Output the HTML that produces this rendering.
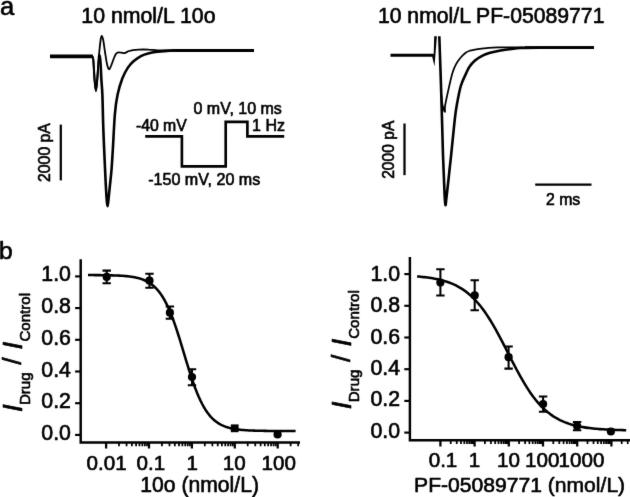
<!DOCTYPE html>
<html><head><meta charset="utf-8"><title>Figure</title>
<style>
html,body{margin:0;padding:0;background:#fff;}
svg{display:block;}
text{font-family:"Liberation Sans",sans-serif;fill:#000;stroke:#000;stroke-width:.62px;stroke-linejoin:round;}
.ln{fill:none;stroke:#000;}
</style></head><body>
<svg width="630" height="497" viewBox="0 0 630 497">
<defs><filter id="soft" color-interpolation-filters="sRGB" x="0" y="0" width="630" height="497" filterUnits="userSpaceOnUse"><feConvolveMatrix order="3" kernelMatrix="1 6 1 6 72 6 1 6 1" divisor="100" edgeMode="duplicate" preserveAlpha="true"/></filter></defs>
<g filter="url(#soft)">
<rect x="-5" y="-5" width="640" height="507" fill="#fff"/>

<text x="-0.1" y="14.5" font-size="25.6">a</text>
<text x="-1.0" y="258.9" font-size="24.6">b</text>
<text x="81.3" y="23.2" font-size="21.3">10 nmol/L 10o</text>
<text x="377.9" y="23.2" font-size="21.2">10 nmol/L PF-05089771</text>
<path class="ln" d="M88.00,56.30 C88.60,56.30 90.87,56.25 91.60,56.30 C92.33,56.35 92.12,55.98 92.40,56.60 C92.68,57.22 92.93,56.10 93.30,60.00 C93.67,63.90 94.17,74.85 94.60,80.00 C95.03,85.15 95.47,90.90 95.90,90.90 C96.33,90.90 96.78,84.48 97.20,80.00 C97.62,75.52 98.07,68.08 98.40,64.00 C98.73,59.92 99.00,56.83 99.20,55.50 C99.40,54.17 99.53,55.92 99.60,56.00" stroke="#2e2e2e" stroke-width="2.1" stroke-linejoin="round"/>
<path class="ln" d="M98.90,57.50 C98.97,57.22 99.13,55.88 99.30,55.80 C99.47,55.72 99.68,55.63 99.90,57.00 C100.12,58.37 100.35,60.17 100.60,64.00 C100.85,67.83 101.10,74.83 101.40,80.00 C101.70,85.17 102.10,87.50 102.40,95.00 C102.70,102.50 102.90,115.77 103.20,125.00 C103.50,134.23 103.77,140.40 104.20,150.40 C104.63,160.40 105.37,176.57 105.80,185.00 C106.23,193.43 106.52,197.47 106.80,201.00 C107.08,204.53 107.25,206.20 107.50,206.20 C107.75,206.20 107.92,204.27 108.30,201.00 C108.68,197.73 109.27,191.77 109.80,186.60 C110.33,181.43 111.00,176.10 111.50,170.00 C112.00,163.90 112.23,159.33 112.80,150.00 C113.37,140.67 114.12,123.17 114.90,114.00 C115.68,104.83 116.27,100.92 117.50,95.00 C118.73,89.08 120.57,83.07 122.30,78.50 C124.03,73.93 125.98,70.52 127.90,67.60 C129.82,64.68 131.55,62.97 133.80,61.00 C136.05,59.03 139.02,57.07 141.40,55.80 C143.78,54.53 145.40,54.07 148.10,53.40 C150.80,52.73 153.95,52.27 157.60,51.80 C161.25,51.33 166.27,50.82 170.00,50.60 C173.73,50.38 173.33,50.52 180.00,50.50 C186.67,50.48 197.68,50.50 210.00,50.50 C222.32,50.50 246.58,50.50 253.90,50.50" stroke-width="2.6" stroke-linejoin="round"/>
<path class="ln" d="M50.00,56.30 C56.33,56.30 81.07,56.30 88.00,56.30 C94.93,56.30 90.87,56.25 91.60,56.30 C92.33,56.35 92.12,55.98 92.40,56.60 C92.68,57.22 92.93,56.10 93.30,60.00 C93.67,63.90 94.17,74.85 94.60,80.00 C95.03,85.15 95.47,90.90 95.90,90.90 C96.33,90.90 96.68,85.98 97.20,80.00 C97.72,74.02 98.43,61.67 99.00,55.00 C99.57,48.33 100.15,43.18 100.60,40.00 C101.05,36.82 101.27,35.90 101.70,35.90 C102.13,35.90 102.65,37.32 103.20,40.00 C103.75,42.68 104.37,48.00 105.00,52.00 C105.63,56.00 106.35,61.12 107.00,64.00 C107.65,66.88 108.23,68.97 108.90,69.30 C109.57,69.63 110.22,67.72 111.00,66.00 C111.78,64.28 112.82,60.95 113.60,59.00 C114.38,57.05 115.13,55.32 115.70,54.30 C116.27,53.28 116.52,53.22 117.00,52.90 C117.48,52.58 117.87,52.43 118.60,52.40 C119.33,52.37 120.45,52.57 121.40,52.70 C122.35,52.83 123.47,53.27 124.30,53.20 C125.13,53.13 125.62,52.67 126.40,52.30 C127.18,51.93 127.90,51.37 129.00,51.00 C130.10,50.63 131.40,50.33 133.00,50.10 C134.60,49.87 136.08,49.68 138.60,49.60 C141.12,49.52 144.93,49.47 148.10,49.60 C151.27,49.73 153.95,50.25 157.60,50.40 C161.25,50.55 162.93,50.48 170.00,50.50 C177.07,50.52 186.02,50.50 200.00,50.50 C213.98,50.50 244.92,50.50 253.90,50.50" stroke="#464646" stroke-width="1.8" stroke-linejoin="round"/>
<path class="ln" d="M50,56.3 H92.8" stroke-width="3.7"/>
<path class="ln" d="M172,50.5 H253.9" stroke-width="3.0"/>
<path class="ln" d="M60.8,124.6 V180.4" stroke-width="2.25"/>
<text transform="translate(49.7,181.9) rotate(-90)" font-size="15.75">2000 pA</text>
<path class="ln" d="M145.2,136.3 H181.9 V166.4 H225.7 V121.9 H247.4 V136.3 H284.2" stroke-width="2.65" stroke-linejoin="miter"/>
<text x="135.9" y="131.4" font-size="15.8">-40 mV</text>
<text x="193.5" y="113.9" font-size="16">0 mV, 10 ms</text>
<text x="252.1" y="131.3" font-size="16">1 Hz</text>
<text x="148.2" y="184.5" font-size="16.1">-150 mV, 20 ms</text>
<path class="ln" d="M441.30,95.00 C441.50,96.67 441.90,102.18 442.50,105.00 C443.10,107.82 444.45,111.90 444.90,111.90 C445.35,111.90 444.48,109.28 445.20,105.00 C445.92,100.72 447.97,91.62 449.20,86.20 C450.43,80.78 451.45,76.17 452.60,72.50 C453.75,68.83 454.78,66.65 456.10,64.20 C457.42,61.75 458.90,59.72 460.50,57.80 C462.10,55.88 464.12,53.88 465.70,52.70 C467.28,51.52 468.25,51.25 470.00,50.70 C471.75,50.15 473.43,49.83 476.20,49.40 C478.97,48.97 482.97,48.43 486.60,48.10 C490.23,47.77 491.43,47.53 498.00,47.40 C504.57,47.27 515.67,47.28 526.00,47.30 C536.33,47.32 548.68,47.47 560.00,47.50 C571.32,47.53 588.25,47.50 593.90,47.50" stroke="#484848" stroke-width="1.75" stroke-linejoin="round"/>
<path class="ln" d="M525,47.6 H593.9" stroke-width="2.7"/>
<path class="ln" d="M390.5,55.3 H433.8" stroke-width="3.0"/>
<path d="M432.2,56.7 L434.5,66.6 L436.9,36.3 L434.2,36.3 L433.7,54 Z" fill="#000"/>
<path class="ln" d="M439.30,36.30 C439.63,46.08 440.68,75.15 441.30,95.00 C441.92,114.85 442.45,138.73 443.00,155.40 C443.55,172.07 444.18,186.70 444.60,195.00 C445.02,203.30 445.20,204.70 445.50,205.20 C445.80,205.70 445.90,202.28 446.40,198.00 C446.90,193.72 447.98,184.17 448.50,179.50 C449.02,174.83 449.07,174.02 449.50,170.00 C449.93,165.98 450.22,163.87 451.10,155.40 C451.98,146.93 453.85,127.60 454.80,119.20 C455.75,110.80 455.80,110.53 456.80,105.00 C457.80,99.47 459.27,91.23 460.80,86.00 C462.33,80.77 464.58,76.77 466.00,73.60 C467.42,70.43 467.80,69.17 469.30,67.00 C470.80,64.83 472.87,62.45 475.00,60.60 C477.13,58.75 479.58,57.20 482.10,55.90 C484.62,54.60 487.45,53.63 490.10,52.80 C492.75,51.97 495.52,51.40 498.00,50.90 C500.48,50.40 502.50,50.15 505.00,49.80 C507.50,49.45 510.50,49.10 513.00,48.80 C515.50,48.50 515.50,48.18 520.00,48.00 C524.50,47.82 527.68,47.77 540.00,47.70 C552.32,47.63 584.92,47.62 593.90,47.60" stroke-width="2.6" stroke-linejoin="round"/>
<path class="ln" d="M404.5,123.5 V175.2" stroke-width="2.25"/>
<text transform="translate(393.9,178.8) rotate(-90)" font-size="15.6">2000 pA</text>
<path class="ln" d="M535.2,184.5 H591.5" stroke-width="2.25"/>
<text x="546" y="204.9" font-size="15.8">2 ms</text>
<path class="ln" d="M80.7,259.2 V442.4 H300" stroke-width="2.45" stroke-linejoin="miter"/>
<path class="ln" d="M75.10000000000001,434.90 H80.7" stroke-width="2.15"/>
<text x="70.9" y="440.20" font-size="21.3" text-anchor="end">0.0</text>
<path class="ln" d="M75.10000000000001,403.20 H80.7" stroke-width="2.15"/>
<text x="70.9" y="408.38" font-size="21.3" text-anchor="end">0.2</text>
<path class="ln" d="M75.10000000000001,371.50 H80.7" stroke-width="2.15"/>
<text x="70.9" y="376.56" font-size="21.3" text-anchor="end">0.4</text>
<path class="ln" d="M75.10000000000001,339.80 H80.7" stroke-width="2.15"/>
<text x="70.9" y="344.74" font-size="21.3" text-anchor="end">0.6</text>
<path class="ln" d="M75.10000000000001,308.10 H80.7" stroke-width="2.15"/>
<text x="70.9" y="312.92" font-size="21.3" text-anchor="end">0.8</text>
<path class="ln" d="M75.10000000000001,276.40 H80.7" stroke-width="2.15"/>
<text x="70.9" y="281.10" font-size="21.3" text-anchor="end">1.0</text>
<path class="ln" d="M106.10,442.4 v6.2 M149.00,442.4 v6.2 M191.90,442.4 v6.2 M234.80,442.4 v6.2 M277.70,442.4 v6.2" stroke-width="2.25"/>
<path class="ln" d="M119.01,442.4 v3.9 M126.57,442.4 v3.9 M131.93,442.4 v3.9 M136.09,442.4 v3.9 M139.48,442.4 v3.9 M142.35,442.4 v3.9 M144.84,442.4 v3.9 M147.04,442.4 v3.9 M161.91,442.4 v3.9 M169.47,442.4 v3.9 M174.83,442.4 v3.9 M178.99,442.4 v3.9 M182.38,442.4 v3.9 M185.25,442.4 v3.9 M187.74,442.4 v3.9 M189.94,442.4 v3.9 M204.81,442.4 v3.9 M212.37,442.4 v3.9 M217.73,442.4 v3.9 M221.89,442.4 v3.9 M225.28,442.4 v3.9 M228.15,442.4 v3.9 M230.64,442.4 v3.9 M232.84,442.4 v3.9 M247.71,442.4 v3.9 M255.27,442.4 v3.9 M260.63,442.4 v3.9 M264.79,442.4 v3.9 M268.18,442.4 v3.9 M271.05,442.4 v3.9 M273.54,442.4 v3.9 M275.74,442.4 v3.9 M290.61,442.4 v3.9 M298.17,442.4 v3.9" stroke-width="1.75"/>
<text x="86.5" y="469.6" font-size="20.6">0.01</text>
<text x="136.6" y="469.6" font-size="20.6">0.1</text>
<text x="186.55" y="469.6" font-size="20.6">1</text>
<text x="222.85" y="469.6" font-size="20.6">10</text>
<text x="261.5" y="469.6" font-size="20.6">100</text>
<text x="140.3" y="491.6" font-size="21.15">10o (nmol/L)</text>
<path class="ln" d="M88.00,275.06 L89.73,275.07 L91.46,275.08 L93.19,275.09 L94.92,275.10 L96.65,275.11 L98.38,275.13 L100.11,275.14 L101.84,275.16 L103.57,275.18 L105.30,275.21 L107.03,275.24 L108.76,275.28 L110.49,275.32 L112.22,275.36 L113.95,275.42 L115.68,275.48 L117.41,275.55 L119.14,275.64 L120.87,275.74 L122.60,275.85 L124.33,275.98 L126.06,276.13 L127.79,276.31 L129.52,276.51 L131.25,276.75 L132.98,277.02 L134.71,277.33 L136.44,277.69 L138.17,278.11 L139.90,278.59 L141.63,279.14 L143.36,279.78 L145.09,280.51 L146.82,281.34 L148.55,282.30 L150.28,283.40 L152.01,284.65 L153.74,286.08 L155.47,287.70 L157.20,289.53 L158.93,291.59 L160.66,293.91 L162.39,296.50 L164.12,299.39 L165.85,302.58 L167.58,306.09 L169.31,309.93 L171.04,314.10 L172.77,318.58 L174.50,323.37 L176.23,328.43 L177.96,333.73 L179.69,339.23 L181.42,344.88 L183.15,350.61 L184.88,356.37 L186.61,362.09 L188.34,367.71 L190.07,373.19 L191.80,378.45 L193.53,383.47 L195.26,388.21 L196.99,392.64 L198.72,396.75 L200.45,400.54 L202.18,404.00 L203.91,407.14 L205.64,409.98 L207.37,412.53 L209.10,414.80 L210.83,416.83 L212.56,418.62 L214.29,420.20 L216.02,421.60 L217.75,422.83 L219.48,423.90 L221.21,424.84 L222.94,425.66 L224.67,426.37 L226.40,426.99 L228.13,427.53 L229.86,428.00 L231.59,428.41 L233.32,428.76 L235.05,429.07 L236.78,429.33 L238.51,429.56 L240.24,429.76 L241.97,429.93 L243.70,430.08 L245.43,430.21 L247.16,430.32 L248.89,430.41 L250.62,430.50 L252.35,430.57 L254.08,430.63 L255.81,430.68 L257.54,430.73 L259.27,430.77 L261.00,430.80 L262.73,430.83 L264.46,430.86 L266.19,430.88 L267.92,430.90 L269.65,430.91 L271.38,430.93 L273.11,430.94 L274.84,430.95 L276.57,430.96 L278.30,430.97 L280.03,430.97 L281.76,430.98 L283.49,430.99 L285.22,430.99 L286.95,430.99 L288.68,431.00 L290.41,431.00 L292.14,431.00 L293.87,431.00 L295.60,431.01" stroke-width="2.55" stroke-linejoin="round"/>
<path class="ln" d="M106.7,270.6 V283.2 M102.5,270.6 h8.4 M102.5,283.2 h8.4" stroke-width="2.05"/>
<circle cx="106.7" cy="276.9" r="4.1" fill="#000"/>
<path class="ln" d="M149.5,273.7 V287.8 M145.3,273.7 h8.4 M145.3,287.8 h8.4" stroke-width="2.05"/>
<circle cx="149.5" cy="280.7" r="4.1" fill="#000"/>
<path class="ln" d="M169.9,306.4 V318.8 M165.70000000000002,306.4 h8.4 M165.70000000000002,318.8 h8.4" stroke-width="2.05"/>
<circle cx="169.9" cy="312.7" r="4.1" fill="#000"/>
<path class="ln" d="M192,369.3 V385.3 M187.8,369.3 h8.4 M187.8,385.3 h8.4" stroke-width="2.05"/>
<circle cx="192" cy="377" r="4.1" fill="#000"/>
<rect x="230.79999999999998" y="424.40000000000003" width="7.8" height="7.8" fill="#000"/>
<circle cx="277.6" cy="434.4" r="4.1" fill="#000"/>
<text transform="translate(21.50,412.00) rotate(-90)" font-size="27.6" font-style="italic">I</text>
<text transform="translate(30.30,405.10) rotate(-90)" font-size="15.1">Drug</text>
<text transform="translate(21.20,364.80) rotate(-90)" font-size="26.5">/</text>
<text transform="translate(21.50,349.40) rotate(-90)" font-size="27.6" font-style="italic">I</text>
<text transform="translate(30.35,341.60) rotate(-90)" font-size="15.1">Control</text>
<path class="ln" d="M409.9,256.9 V440.2 H630" stroke-width="2.45" stroke-linejoin="miter"/>
<path class="ln" d="M404.29999999999995,432.60 H409.9" stroke-width="2.15"/>
<text x="400.1" y="437.70" font-size="21.3" text-anchor="end">0.0</text>
<path class="ln" d="M404.29999999999995,400.90 H409.9" stroke-width="2.15"/>
<text x="400.1" y="406.38" font-size="21.3" text-anchor="end">0.2</text>
<path class="ln" d="M404.29999999999995,369.20 H409.9" stroke-width="2.15"/>
<text x="400.1" y="375.06" font-size="21.3" text-anchor="end">0.4</text>
<path class="ln" d="M404.29999999999995,337.50 H409.9" stroke-width="2.15"/>
<text x="400.1" y="343.74" font-size="21.3" text-anchor="end">0.6</text>
<path class="ln" d="M404.29999999999995,305.80 H409.9" stroke-width="2.15"/>
<text x="400.1" y="312.42" font-size="21.3" text-anchor="end">0.8</text>
<path class="ln" d="M404.29999999999995,274.10 H409.9" stroke-width="2.15"/>
<text x="400.1" y="281.10" font-size="21.3" text-anchor="end">1.0</text>
<path class="ln" d="M440.40,440.2 v6.2 M474.60,440.2 v6.2 M508.80,440.2 v6.2 M543.00,440.2 v6.2 M577.20,440.2 v6.2 M611.40,440.2 v6.2" stroke-width="2.25"/>
<path class="ln" d="M450.70,440.2 v3.9 M456.72,440.2 v3.9 M460.99,440.2 v3.9 M464.30,440.2 v3.9 M467.01,440.2 v3.9 M469.30,440.2 v3.9 M471.29,440.2 v3.9 M473.04,440.2 v3.9 M484.90,440.2 v3.9 M490.92,440.2 v3.9 M495.19,440.2 v3.9 M498.50,440.2 v3.9 M501.21,440.2 v3.9 M503.50,440.2 v3.9 M505.49,440.2 v3.9 M507.24,440.2 v3.9 M519.10,440.2 v3.9 M525.12,440.2 v3.9 M529.39,440.2 v3.9 M532.70,440.2 v3.9 M535.41,440.2 v3.9 M537.70,440.2 v3.9 M539.69,440.2 v3.9 M541.44,440.2 v3.9 M553.30,440.2 v3.9 M559.32,440.2 v3.9 M563.59,440.2 v3.9 M566.90,440.2 v3.9 M569.61,440.2 v3.9 M571.90,440.2 v3.9 M573.89,440.2 v3.9 M575.64,440.2 v3.9 M587.50,440.2 v3.9 M593.52,440.2 v3.9 M597.79,440.2 v3.9 M601.10,440.2 v3.9 M603.81,440.2 v3.9 M606.10,440.2 v3.9 M608.09,440.2 v3.9 M609.84,440.2 v3.9 M621.70,440.2 v3.9 M627.72,440.2 v3.9" stroke-width="1.75"/>
<text x="428.7" y="466.7" font-size="20.6">0.1</text>
<text x="468.65" y="466.7" font-size="20.6">1</text>
<text x="497.0" y="466.7" font-size="20.6">10</text>
<text x="525.0" y="466.7" font-size="20.6">100</text>
<text x="558.6" y="466.7" font-size="20.6">1000</text>
<text x="414.1" y="491.7" font-size="21.1">PF-05089771 (nmol/L)</text>
<path class="ln" d="M417.10,276.46 L418.84,276.60 L420.59,276.76 L422.33,276.93 L424.07,277.12 L425.81,277.32 L427.56,277.54 L429.30,277.78 L431.04,278.04 L432.78,278.33 L434.53,278.64 L436.27,278.97 L438.01,279.34 L439.75,279.74 L441.50,280.17 L443.24,280.63 L444.98,281.14 L446.72,281.69 L448.47,282.29 L450.21,282.93 L451.95,283.63 L453.69,284.39 L455.44,285.20 L457.18,286.08 L458.92,287.03 L460.66,288.05 L462.41,289.15 L464.15,290.33 L465.89,291.60 L467.63,292.96 L469.38,294.41 L471.12,295.96 L472.86,297.62 L474.60,299.38 L476.35,301.25 L478.09,303.23 L479.83,305.32 L481.57,307.53 L483.32,309.86 L485.06,312.30 L486.80,314.85 L488.54,317.52 L490.29,320.29 L492.03,323.17 L493.77,326.14 L495.51,329.21 L497.25,332.36 L499.00,335.58 L500.74,338.86 L502.48,342.20 L504.23,345.58 L505.97,348.98 L507.71,352.40 L509.45,355.82 L511.20,359.22 L512.94,362.60 L514.68,365.95 L516.42,369.24 L518.17,372.48 L519.91,375.64 L521.65,378.72 L523.39,381.72 L525.13,384.62 L526.88,387.41 L528.62,390.10 L530.36,392.67 L532.11,395.14 L533.85,397.49 L535.59,399.72 L537.33,401.84 L539.08,403.84 L540.82,405.73 L542.56,407.51 L544.30,409.19 L546.05,410.76 L547.79,412.23 L549.53,413.60 L551.27,414.89 L553.02,416.09 L554.76,417.20 L556.50,418.24 L558.24,419.20 L559.99,420.09 L561.73,420.92 L563.47,421.69 L565.21,422.40 L566.96,423.05 L568.70,423.66 L570.44,424.22 L572.18,424.73 L573.93,425.21 L575.67,425.65 L577.41,426.05 L579.15,426.42 L580.89,426.76 L582.64,427.08 L584.38,427.37 L586.12,427.63 L587.87,427.88 L589.61,428.10 L591.35,428.31 L593.09,428.50 L594.84,428.67 L596.58,428.83 L598.32,428.98 L600.06,429.11 L601.81,429.23 L603.55,429.35 L605.29,429.45 L607.03,429.54 L608.78,429.63 L610.52,429.71 L612.26,429.79 L614.00,429.85 L615.75,429.91 L617.49,429.97 L619.23,430.02 L620.97,430.07 L622.72,430.11 L624.46,430.15 L626.20,430.19" stroke-width="2.55" stroke-linejoin="round"/>
<path class="ln" d="M440.4,269.3 V295.4 M436.2,269.3 h8.4 M436.2,295.4 h8.4" stroke-width="2.05"/>
<circle cx="440.4" cy="282.6" r="4.1" fill="#000"/>
<path class="ln" d="M474.7,280.3 V310.2 M470.5,280.3 h8.4 M470.5,310.2 h8.4" stroke-width="2.05"/>
<circle cx="474.7" cy="295.4" r="4.1" fill="#000"/>
<path class="ln" d="M508.6,346.5 V368.6 M504.40000000000003,346.5 h8.4 M504.40000000000003,368.6 h8.4" stroke-width="2.05"/>
<circle cx="508.6" cy="357.2" r="4.1" fill="#000"/>
<path class="ln" d="M543.1,396.5 V411.7 M538.9,396.5 h8.4 M538.9,411.7 h8.4" stroke-width="2.05"/>
<circle cx="543.1" cy="404.1" r="4.1" fill="#000"/>
<path class="ln" d="M577.1,421.9 V430.3 M572.9,421.9 h8.4 M572.9,430.3 h8.4" stroke-width="2.05"/>
<circle cx="577.1" cy="426" r="4.1" fill="#000"/>
<circle cx="610.9" cy="431.5" r="4.1" fill="#000"/>
<text transform="translate(350.50,409.20) rotate(-90)" font-size="27.6" font-style="italic">I</text>
<text transform="translate(359.30,402.30) rotate(-90)" font-size="15.1">Drug</text>
<text transform="translate(350.20,362.00) rotate(-90)" font-size="26.5">/</text>
<text transform="translate(350.50,346.60) rotate(-90)" font-size="27.6" font-style="italic">I</text>
<text transform="translate(359.35,338.80) rotate(-90)" font-size="15.1">Control</text>
</g>
</svg>
</body></html>
